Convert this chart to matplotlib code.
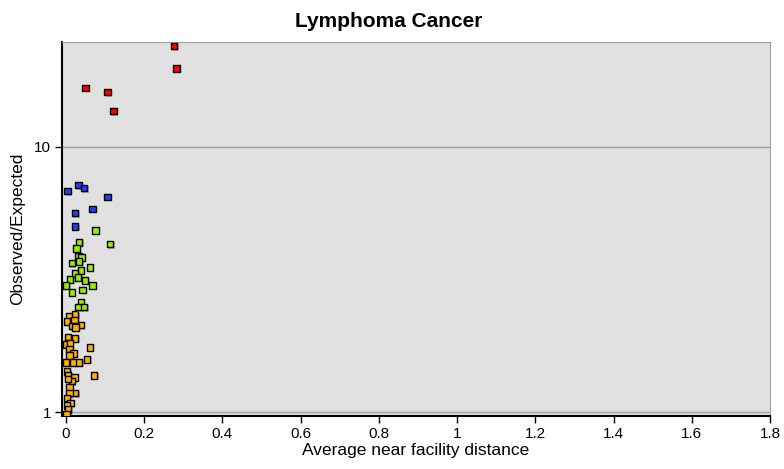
import matplotlib
matplotlib.use("Agg")
import matplotlib.pyplot as plt
import matplotlib.patheffects as pe
from matplotlib.ticker import FixedLocator, NullLocator

plt.rcParams['font.family'] = ['Liberation Sans', 'DejaVu Sans']

# Groups (x = distance, y = observed/expected)
red_x = [0.276, 0.283, 0.050, 0.106, 0.121]
red_y = [23.98, 19.75, 16.69, 16.08, 13.63]

blue_x = [0.004, 0.032, 0.046, 0.106, 0.068, 0.023, 0.023]
blue_y = [6.81, 7.17, 6.99, 6.48, 5.84, 5.63, 5.01]

green_x = [0.076, 0.113, 0.034, 0.027, 0.032, 0.040, 0.034, 0.015, 0.061, 0.038,
           0.023, 0.031, 0.011, 0.049, 0.000, 0.068, 0.042, 0.015, 0.038, 0.032, 0.046]
green_y = [4.83, 4.30, 4.36, 4.14, 3.88, 3.83, 3.69, 3.64, 3.51, 3.42,
           3.33, 3.21, 3.16, 3.13, 3.00, 3.00, 2.89, 2.82, 2.60, 2.49, 2.49]

orange_x = [0.023, 0.008, 0.022, 0.003, 0.038, 0.015, 0.025, 0.005, 0.023, 0.001,
            0.010, 0.061, 0.009, 0.020, 0.009, 0.054, 0.000, 0.019, 0.034, 0.003,
            0.005, 0.022, 0.015, 0.005, 0.072, 0.009, 0.023, 0.009, 0.003, 0.012,
            0.003, 0.005, 0.002]
orange_y = [2.33, 2.30, 2.22, 2.19, 2.13, 2.11, 2.08, 1.92, 1.89, 1.80,
            1.81, 1.75, 1.73, 1.66, 1.63, 1.58, 1.54, 1.54, 1.54, 1.42,
            1.38, 1.35, 1.31, 1.33, 1.375, 1.24, 1.18, 1.18, 1.13, 1.08,
            1.06, 1.02, 0.98]

x_ticks = [0, 0.2, 0.4, 0.6, 0.8, 1, 1.2, 1.4, 1.6, 1.8]
x_tick_labels = ["0", "0.2", "0.4", "0.6", "0.8", "1", "1.2", "1.4", "1.6", "1.8"]
y_ticks = [1, 10]
y_tick_labels = ["1", "10"]

groups = [
    (orange_x, orange_y, "#ffb000"),
    (green_x, green_y, "#99ee00"),
    (blue_x, blue_y, "#2040ff"),
    (red_x, red_y, "#ff0000"),
]

fig = plt.figure(figsize=(7.84, 4.69), dpi=100)
ax = fig.add_axes([0.0791, 0.113, 0.9030, 0.798])
ax.set_facecolor("#e0e0e0")

# small grey drop shadow under each marker, like the original
shadow = [pe.SimplePatchShadow(offset=(1, -1), shadow_rgbFace="#888888", alpha=0.6), pe.Normal()]
for xs, ys, col in groups:
    ax.scatter(xs, ys, s=22, marker="s", c=col, edgecolors="black",
               linewidths=1.0, zorder=3, path_effects=shadow)

ax.set_yscale("log")
ax.set_xlim(-0.01, 1.8)
ax.set_ylim(0.966, 24.9)

ax.yaxis.set_major_locator(FixedLocator(y_ticks))
ax.yaxis.set_minor_locator(NullLocator())
ax.set_yticklabels(y_tick_labels)
ax.set_xticks(x_ticks)
ax.set_xticklabels(x_tick_labels)

ax.grid(axis="y", which="major", color="#a0a0a0", linewidth=1.0, zorder=1)
ax.set_axisbelow(True)

ax.tick_params(direction="out", length=5, width=1, colors="black", labelsize=11, pad=3)
for side in ["top", "right"]:
    ax.spines[side].set_color("#a0a0a0")
for side in ["left", "bottom"]:
    ax.spines[side].set_color("black")
    ax.spines[side].set_linewidth(1.5)

fig.text(0.496, 1 - 27 / 469, "Lymphoma Cancer", fontsize=15, fontweight="bold",
         ha="center", va="baseline")
ax.set_xlabel("Average near facility distance", fontsize=12.5, labelpad=1)
ax.set_ylabel("Observed/Expected", fontsize=12.5, labelpad=6)

fig.savefig("out.png", dpi=100)
